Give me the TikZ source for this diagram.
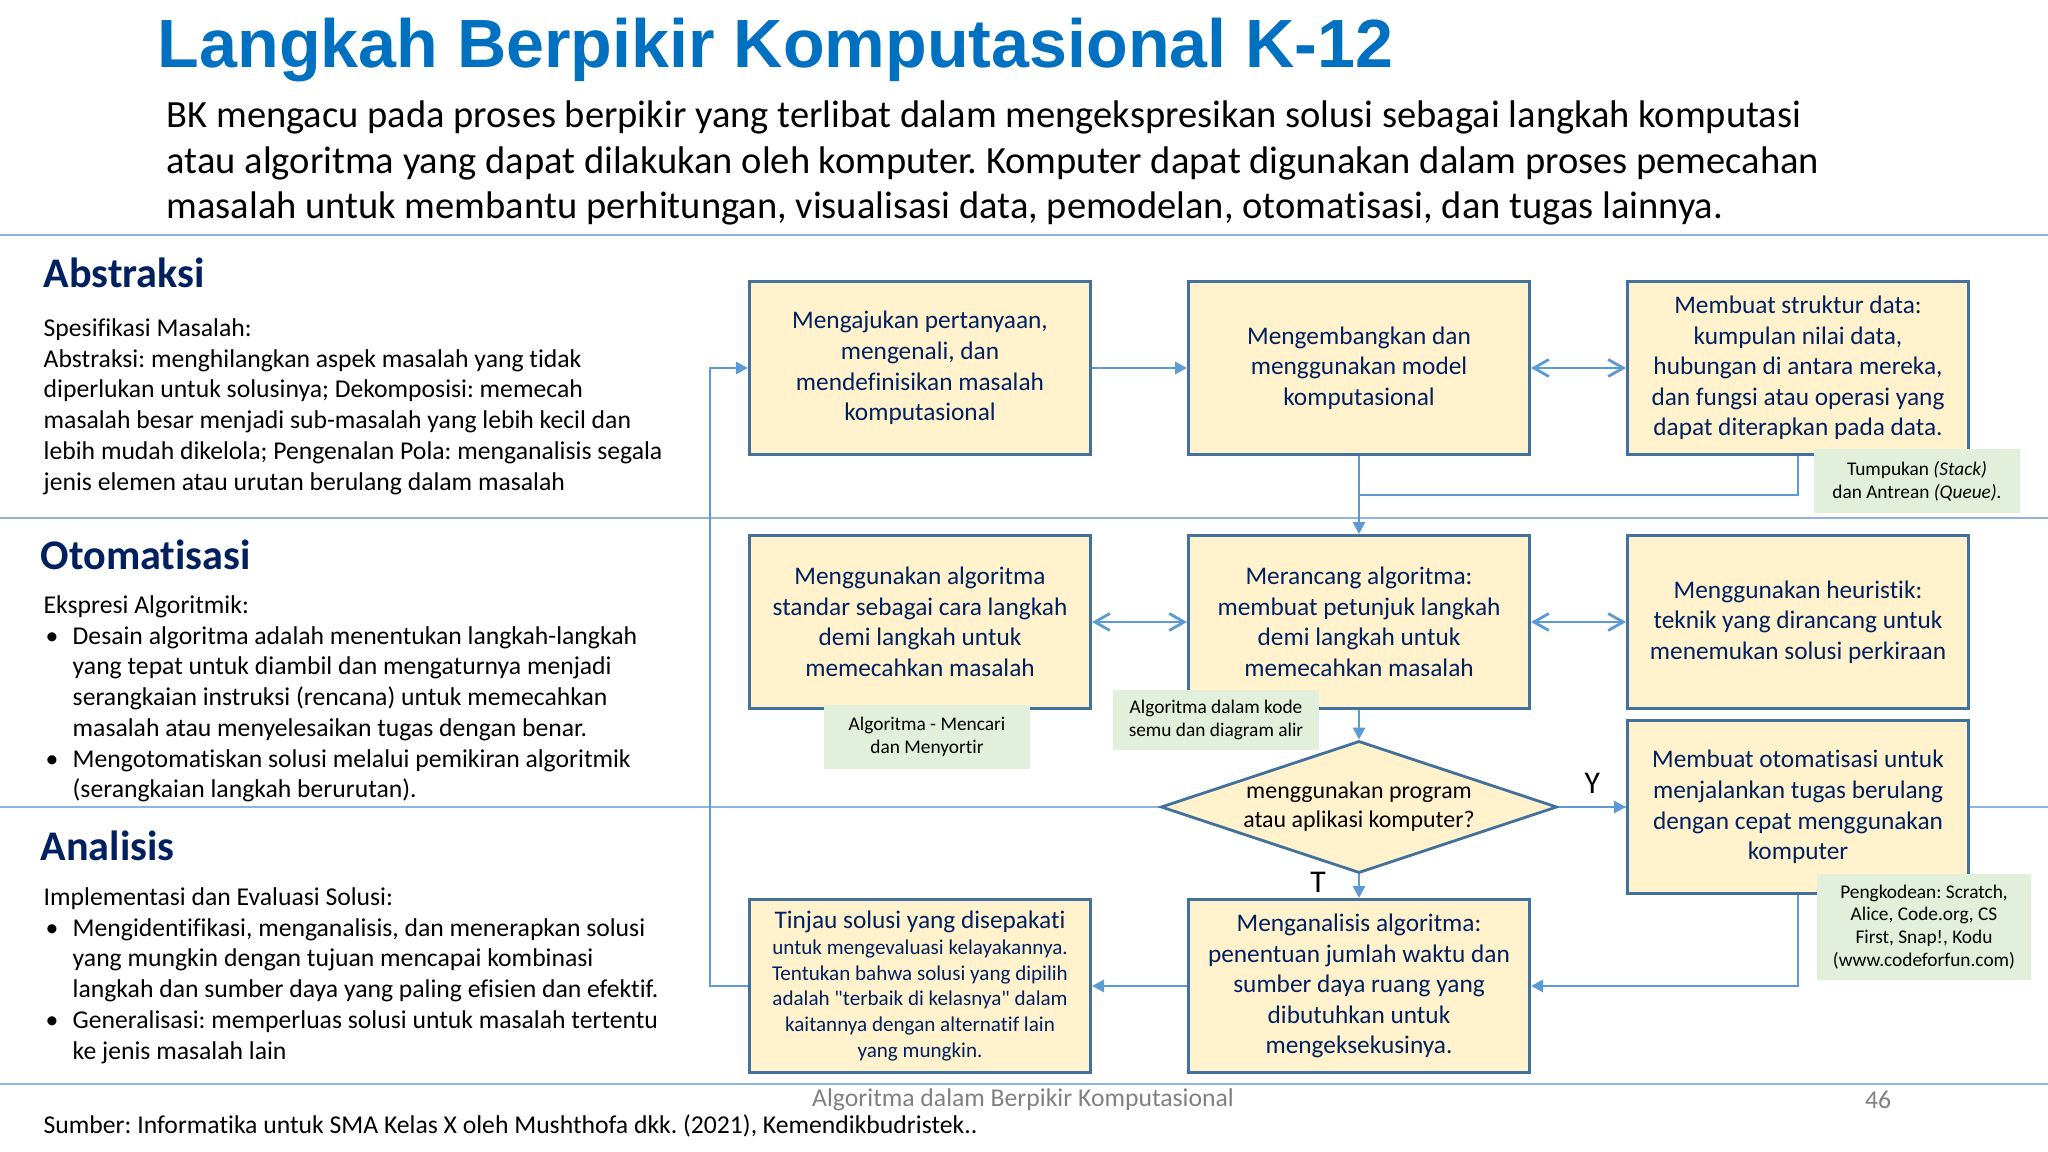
\documentclass[tikz,border=0pt]{standalone}
\usepackage{fontspec}
\setmainfont{Carlito}[Ligatures={TeX,NoCommon}]
\newfontfamily\judulfont{Liberation Sans}
\usepackage{xcolor}
\usetikzlibrary{shapes.geometric}
\usetikzlibrary{arrows.meta}
\usetikzlibrary{calc}
\frenchspacing

\definecolor{judul}{RGB}{0,112,192}
\definecolor{tinta}{RGB}{0,32,96}
\definecolor{kuning}{RGB}{255,242,204}
\definecolor{bingkai}{RGB}{65,113,156}
\definecolor{panah}{RGB}{91,155,213}
\definecolor{garis}{RGB}{143,180,222}
\definecolor{hijau}{RGB}{226,239,218}
\definecolor{abu}{RGB}{128,128,128}

\newcommand{\butir}{\makebox[0.29cm][l]{\hspace{0.02cm}\textbullet}}
\newcommand{\gantung}{\hspace*{0.29cm}}

\tikzset{
  langkah/.style={draw=bingkai, line width=0.8pt, fill=kuning, text=tinta,
    minimum width=3.41cm, minimum height=1.73cm, text width=3.3cm, align=flush center,
    inner sep=0pt, font=\fontsize{7.2}{8.7}\selectfont},
  catatan/.style={fill=hijau, align=center, inner sep=0pt, minimum width=2.05cm,
    minimum height=0.63cm, font=\fontsize{5.5}{6.5}\selectfont},
  isi/.style={anchor=north west, align=left, inner sep=0pt, font=\fontsize{7.3}{8.73}\selectfont},
  bagian/.style={anchor=west, inner sep=0pt, text=tinta, font=\fontsize{12}{14}\selectfont\bfseries},
  pemisah/.style={draw=garis, line width=0.7pt},
  alur/.style={draw=panah, line width=0.8pt, -{Triangle[length=1.2mm,width=1.2mm]}},
  dua/.style={draw=panah, line width=0.8pt,
    {Straight Barb[length=1.5mm,width=1.7mm]}-{Straight Barb[length=1.5mm,width=1.7mm]}},
  sambung/.style={draw=panah, line width=0.8pt},
}

\begin{document}
\begin{tikzpicture}[x=0.01cm, y=-0.01cm]
  \useasboundingbox (0,0) rectangle (2048,1152);
  \foreach \y in {235, 518, 807, 1084}
    \draw[pemisah] (0,\y) -- (2048,\y);

  \node[anchor=base west, inner sep=0pt, text=judul, font=\judulfont\bfseries\fontsize{19.4}{23}\selectfont] (judul) at (157,68) {Langkah Berpikir Komputasional K-12};
  \node[isi, font=\fontsize{10.95}{13}\selectfont] (pengantar) at (166,100) {BK mengacu pada proses berpikir yang terlibat dalam mengekspresikan solusi sebagai langkah komputasi\\
    atau algoritma yang dapat dilakukan oleh komputer. Komputer dapat digunakan dalam proses pemecahan\\
    masalah untuk membantu perhitungan, visualisasi data, pemodelan, otomatisasi, dan tugas lainnya.};

  % kolom kiri
  \node[bagian] (abstraksi) at (43,273) {Abstraksi};
  \node[isi] (teksabstraksi) at (43,318) {Spesifikasi Masalah:\\
    Abstraksi: menghilangkan aspek masalah yang tidak\\
    diperlukan untuk solusinya; Dekomposisi: memecah\\
    masalah besar menjadi sub-masalah yang lebih kecil dan\\
    lebih mudah dikelola; Pengenalan Pola: menganalisis segala\\
    jenis elemen atau urutan berulang dalam masalah};
  \node[bagian] (otomatisasi) at (40,555) {Otomatisasi};
  \node[isi] (teksotomatisasi) at (43,595) {Ekspresi Algoritmik:\\
    \butir Desain algoritma adalah menentukan langkah-langkah\\
    \gantung yang tepat untuk diambil dan mengaturnya menjadi\\
    \gantung serangkaian instruksi (rencana) untuk memecahkan\\
    \gantung masalah atau menyelesaikan tugas dengan benar.\\
    \butir Mengotomatiskan solusi melalui pemikiran algoritmik\\
    \gantung (serangkaian langkah berurutan).};
  \node[bagian] (analisisjudul) at (40,846) {Analisis};
  \node[isi] (teksanalisis) at (43,887) {Implementasi dan Evaluasi Solusi:\\
    \butir Mengidentifikasi, menganalisis, dan menerapkan solusi\\
    \gantung yang mungkin dengan tujuan mencapai kombinasi\\
    \gantung langkah dan sumber daya yang paling efisien dan efektif.\\
    \butir Generalisasi: memperluas solusi untuk masalah tertentu\\
    \gantung ke jenis masalah lain};

  % diagram alur
  \node[langkah] (tanya) at (920,368) {Mengajukan pertanyaan,\\ mengenali, dan\\ mendefinisikan masalah\\ komputasional};
  \node[langkah] (model) at (1359,368) {Mengembangkan dan\\ menggunakan model\\ komputasional};
  \node[langkah] (data) at (1798,368) {Membuat struktur data:\\ kumpulan nilai data,\\ hubungan di antara mereka,\\ dan fungsi atau operasi yang\\ dapat diterapkan pada data.};
  \node[langkah] (standar) at (920,622) {Menggunakan algoritma\\ standar sebagai cara langkah\\ demi langkah untuk\\ memecahkan masalah};
  \node[langkah] (rancang) at (1359,622) {Merancang algoritma:\\ membuat petunjuk langkah\\ demi langkah untuk\\ memecahkan masalah};
  \node[langkah] (heuristik) at (1798,622) {Menggunakan heuristik:\\ teknik yang dirancang untuk\\ menemukan solusi perkiraan};
  \node[diamond, aspect=3, draw=bingkai, line width=0.8pt, fill=kuning, minimum width=3.96cm, minimum height=1.32cm,
    inner sep=0pt, align=center, font=\fontsize{6.8}{8.2}\selectfont] (program) at (1359,807) {menggunakan program\\ atau aplikasi komputer?};
  \node[langkah] (otomasi) at (1798,807) {Membuat otomatisasi untuk\\ menjalankan tugas berulang\\ dengan cepat menggunakan\\ komputer};
  \node[langkah] (tinjau) at (920,986) {Tinjau solusi yang disepakati\par
    {\fontsize{6}{7.3}\selectfont untuk mengevaluasi kelayakannya.\\ Tentukan bahwa solusi yang dipilih\\ adalah \textquotedbl terbaik di kelasnya\textquotedbl{} dalam\\ kaitannya dengan alternatif lain\\ yang mungkin.\par}};
  \node[langkah] (analisis) at (1359,986) {Menganalisis algoritma:\\ penentuan jumlah waktu dan\\ sumber daya ruang yang\\ dibutuhkan untuk\\ mengeksekusinya.};

  \draw (tanya) edge[alur] (model);
  \draw (model) edge[dua] (data);
  \draw (model) edge[alur] (rancang);
  \draw[sambung] (data.south) |- ($(model.south)!0.5!(rancang.north)$);
  \draw (standar) edge[dua] (rancang);
  \draw (rancang) edge[dua] (heuristik);
  \draw (rancang) edge[alur] (program);
  \draw (program) edge[alur] node[above=0cm, font=\fontsize{9}{10}\selectfont] {Y} (otomasi);
  \draw (program) edge[alur] node[left=0.2cm, pos=0.35, font=\fontsize{9}{10}\selectfont] {T} (analisis);
  \draw[alur] (otomasi.south) |- (analisis.east);
  \draw (analisis) edge[alur] (tinjau);
  \draw[alur] (tinjau.west) -- ++(-38,0) |- (tanya.west);

  % catatan hijau
  \node[catatan] (tumpukan) at (1917,481) {Tumpukan \textit{(Stack)}\\ dan Antrean \textit{(Queue).}};
  \node[catatan] (cari) at (927,737) {Algoritma - Mencari\\ dan Menyortir};
  \node[catatan, minimum height=0.59cm] (kode) at (1216,720) {Algoritma dalam kode\\ semu dan diagram alir};
  \node[catatan, minimum width=2.14cm, minimum height=1.05cm] (pengkodean) at (1924,927) {Pengkodean: Scratch,\\ Alice, Code.org, CS\\ First, Snap!, Kodu\\ (www.codeforfun.com)};

  % kaki halaman
  \node[text=abu, font=\fontsize{7.3}{9}\selectfont] (kaki) at (1023,1100) {Algoritma dalam Berpikir Komputasional};
  \node[text=abu, font=\fontsize{7.3}{9}\selectfont] (halaman) at (1878,1100) {46};
  \node[anchor=west, inner sep=0pt, font=\fontsize{7.3}{9}\selectfont] (sumber) at (43,1126) {Sumber: Informatika untuk SMA Kelas X oleh Mushthofa dkk. (2021), Kemendikbudristek..};
\end{tikzpicture}
\end{document}
